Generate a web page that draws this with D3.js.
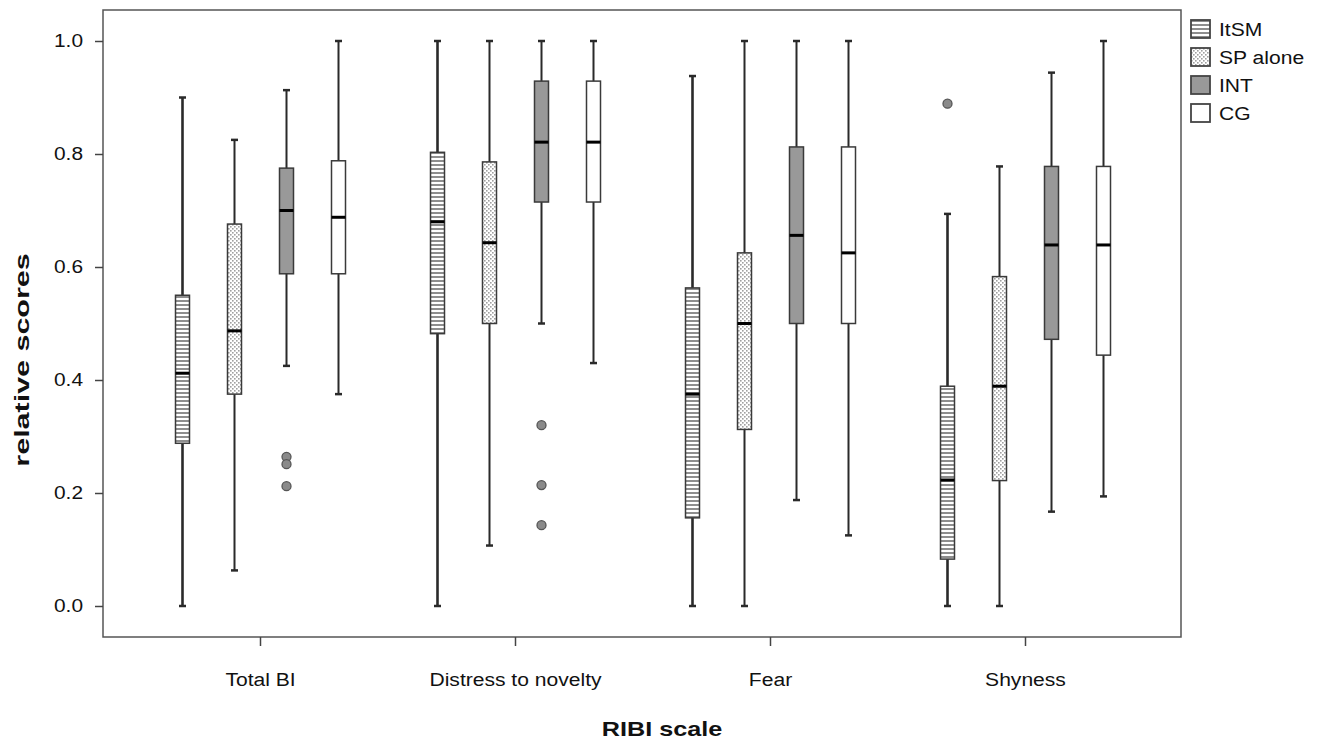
<!DOCTYPE html>
<html>
<head>
<meta charset="utf-8">
<script src="https://cdn.jsdelivr.net/npm/d3@7"></script>
<style>
  body { margin: 0; background: #fff; }
  svg { display: block; font-family: "Liberation Sans", Arial, sans-serif; }
</style>
</head>
<body>
<svg id="chart" width="1320" height="739"></svg>
<script>
const categories = ["Total BI", "Distress to novelty", "Fear", "Shyness"]
const groups = ["ItSM", "SP alone", "INT", "CG"]
const yTicks = [0, 0.2, 0.4, 0.6, 0.8, 1.0]

// five-number summaries per category, one array per group: [low, q1, median, q3, high]
const itsm = [[0, 0.288, 0.412, 0.55, 0.9], [0, 0.482, 0.68, 0.803, 1.0], [0, 0.156, 0.375, 0.563, 0.938], [0, 0.083, 0.223, 0.389, 0.694]]
const spAlone = [[0.063, 0.375, 0.487, 0.676, 0.825], [0.107, 0.5, 0.643, 0.786, 1.0], [0, 0.3125, 0.5, 0.625, 1.0], [0, 0.222, 0.389, 0.583, 0.778]]
const intGroup = [[0.425, 0.588, 0.7, 0.775, 0.913], [0.5, 0.715, 0.821, 0.929, 1.0], [0.1875, 0.5, 0.656, 0.8125, 1.0], [0.167, 0.472, 0.639, 0.778, 0.944]]
const cg = [[0.375, 0.588, 0.688, 0.788, 1.0], [0.43, 0.715, 0.821, 0.929, 1.0], [0.125, 0.5, 0.625, 0.8125, 1.0], [0.194, 0.444, 0.639, 0.778, 1.0]]

// outliers: [category, group, value]
const outliers = [
  ["Total BI", "INT", 0.264], ["Total BI", "INT", 0.251], ["Total BI", "INT", 0.212],
  ["Distress to novelty", "INT", 0.32], ["Distress to novelty", "INT", 0.214], ["Distress to novelty", "INT", 0.143],
  ["Shyness", "ItSM", 0.889],
]

const series = { "ItSM": itsm, "SP alone": spAlone, "INT": intGroup, "CG": cg }
const fills = { "ItSM": "url(#stripes)", "SP alone": "url(#dots)", "INT": "#999999", "CG": "#ffffff" }

const svg = d3.select("#chart")
const frame = { left: 103, right: 1181, top: 10, bottom: 637 }

// the reference font is drawn wider than its height suggests
function widen(selection, factor) {
  selection.each(function () {
    const w = this.getComputedTextLength()
    d3.select(this).attr("textLength", w * factor).attr("lengthAdjust", "spacingAndGlyphs")
  })
}

const defs = svg.append("defs")
const stripes = defs.append("pattern").attr("id", "stripes").attr("patternUnits", "userSpaceOnUse")
  .attr("width", 4).attr("height", 4)
stripes.append("rect").attr("width", 4).attr("height", 4).attr("fill", "#fff")
stripes.append("rect").attr("width", 4).attr("height", 2).attr("fill", "#8e8e8e")
const dots = defs.append("pattern").attr("id", "dots").attr("patternUnits", "userSpaceOnUse")
  .attr("width", 4).attr("height", 4)
dots.append("rect").attr("width", 4).attr("height", 4).attr("fill", "#fff")
dots.append("rect").attr("width", 1.6).attr("height", 1.6).attr("fill", "#a0a0a0")
dots.append("rect").attr("x", 2).attr("y", 2).attr("width", 1.6).attr("height", 1.6).attr("fill", "#a0a0a0")

const x = d3.scaleBand().domain(categories).range([133, 1153]).paddingInner(0)
const xInner = d3.scaleBand().domain(groups).range([-104, 104])
const y = d3.scaleLinear().domain([0, 1]).range([606, 41])
const boxW = 14

// frame
svg.append("rect")
  .attr("x", frame.left).attr("y", frame.top)
  .attr("width", frame.right - frame.left).attr("height", frame.bottom - frame.top)
  .attr("fill", "none").attr("stroke", "#555").attr("stroke-width", 1.5)

// y axis
const yAxis = svg.append("g")
  .attr("transform", `translate(${frame.left},0)`)
  .call(d3.axisLeft(y).tickValues(yTicks).tickFormat(d3.format(".1f")).tickSize(8).tickSizeOuter(0).tickPadding(12))
yAxis.select(".domain").remove()
yAxis.selectAll("line").attr("stroke", "#444").attr("stroke-width", 1.5)
yAxis.selectAll("text").attr("font-size", 18).attr("fill", "#111").attr("font-family", "Liberation Sans, Arial, sans-serif")
  .call(widen, 1.16)

// x axis
const xAxis = svg.append("g")
  .attr("transform", `translate(0,${frame.bottom})`)
  .call(d3.axisBottom(x).tickSize(9).tickSizeOuter(0).tickPadding(27))
xAxis.select(".domain").remove()
xAxis.selectAll("line").attr("stroke", "#444").attr("stroke-width", 1.5)
xAxis.selectAll("text").attr("font-size", 18).attr("fill", "#111").attr("font-family", "Liberation Sans, Arial, sans-serif")
  .call(widen, 1.17)

// axis titles
svg.append("text")
  .attr("x", 662).attr("y", 736)
  .attr("text-anchor", "middle")
  .attr("font-size", 21).attr("font-weight", "bold").attr("fill", "#111")
  .text("RIBI scale")
  .call(widen, 1.2)
svg.append("text")
  .attr("transform", "translate(29,360) rotate(-90)")
  .attr("text-anchor", "middle")
  .attr("font-size", 21).attr("font-weight", "bold").attr("fill", "#111")
  .text("relative scores")
  .call(widen, 1.45)

// boxes
const boxData = []
groups.forEach((group) => {
  categories.forEach((cat, i) => {
    const [low, q1, med, q3, high] = series[group][i]
    boxData.push({ cat, group, low, q1, med, q3, high })
  })
})
const cx = (d) => x(d.cat) + x.bandwidth() / 2 + xInner(d.group) + xInner.bandwidth() / 2

const boxes = svg.append("g").selectAll("g").data(boxData).join("g")

boxes.append("line")
  .attr("x1", cx).attr("x2", cx)
  .attr("y1", (d) => y(d.high)).attr("y2", (d) => y(d.low))
  .attr("stroke", "#2a2a2a")
  .attr("stroke-width", (d) => d.group === "ItSM" ? 2.6 : 2)

boxes.append("line")
  .attr("x1", (d) => cx(d) - 3.5).attr("x2", (d) => cx(d) + 3.5)
  .attr("y1", (d) => y(d.high)).attr("y2", (d) => y(d.high))
  .attr("stroke", "#2a2a2a").attr("stroke-width", 2.5)
boxes.append("line")
  .attr("x1", (d) => cx(d) - 3.5).attr("x2", (d) => cx(d) + 3.5)
  .attr("y1", (d) => y(d.low)).attr("y2", (d) => y(d.low))
  .attr("stroke", "#2a2a2a").attr("stroke-width", 2.5)

boxes.append("rect")
  .attr("x", (d) => cx(d) - boxW / 2)
  .attr("y", (d) => y(d.q3))
  .attr("width", boxW)
  .attr("height", (d) => y(d.q1) - y(d.q3))
  .attr("fill", (d) => fills[d.group])
  .attr("stroke", "#3a3a3a").attr("stroke-width", 1.5)

boxes.append("line")
  .attr("x1", (d) => cx(d) - boxW / 2).attr("x2", (d) => cx(d) + boxW / 2)
  .attr("y1", (d) => y(d.med)).attr("y2", (d) => y(d.med))
  .attr("stroke", "#000").attr("stroke-width", 3)

// outliers
svg.append("g").selectAll("circle").data(outliers).join("circle")
  .attr("cx", (d) => cx({ cat: d[0], group: d[1] }))
  .attr("cy", (d) => y(d[2]))
  .attr("r", 4.5)
  .attr("fill", "#8a8a8a").attr("stroke", "#555").attr("stroke-width", 1.3)

// legend
const legend = svg.append("g").selectAll("g").data(groups).join("g")
  .attr("transform", (d, i) => `translate(1191,${20 + i * 28})`)
legend.append("rect")
  .attr("width", 19).attr("height", 18)
  .attr("fill", (d) => fills[d])
  .attr("stroke", "#444").attr("stroke-width", 1.8)
legend.append("text")
  .attr("x", 28).attr("y", 16)
  .attr("font-size", 18).attr("fill", "#111")
  .text((d) => d)
  .call(widen, 1.17)
</script>
</body>
</html>
